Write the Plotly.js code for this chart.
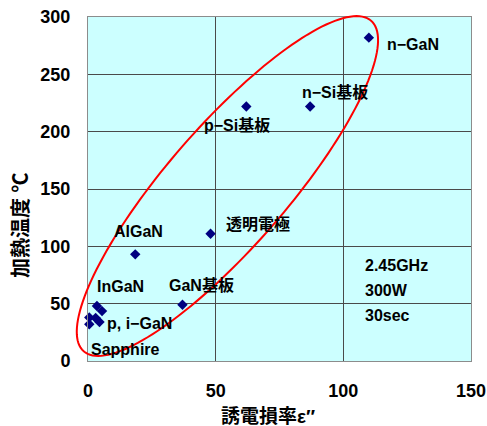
<!DOCTYPE html>
<html>
<head>
<meta charset="utf-8">
<script src="https://cdn.plot.ly/plotly-3.0.1.min.js"></script>
<style>
  html, body { margin: 0; padding: 0; background: #ffffff; }
  #chart { width: 487px; height: 426px; }
</style>
</head>
<body>
<div id="chart"></div>
<script>
// Dielectric loss factor (ε″) vs. heating temperature (℃), 2.45 GHz / 300 W / 30 s
const samples = ['n−GaN', 'n−Si基板', 'p−Si基板', '透明電極', 'AlGaN', 'GaN基板',
                 'InGaN', 'p, i−GaN', 'i−GaN', 'p−GaN', 'Sapphire', 'Sapphire'];
const lossFactor = [110, 87, 62, 48, 18.5, 37, 3.5, 5.5, 0.5, 3, 4.5, 0.5];
const heatTemp   = [282, 222, 222, 111, 93, 49, 48, 43.5, 38, 37.5, 34, 32];

// label text per sample ('' = unlabelled point) with pixel offsets from its marker
const labelText = ['n−GaN', 'n−Si基板', 'p−Si基板', '透明電極', 'AlGaN', 'GaN基板',
                   'InGaN', 'p, i−GaN', '', '', '', 'Sapphire'];
const labelDx = [16, -10, -44, 13, -23, -15, -2, 3, 0, 0, 0, 0];
const labelDy = [-7, 14, -19, 10, 23, 19, 19, -12, 0, 0, 0, -25];

const xTicks = [0, 50, 100, 150];
const yTicks = [0, 50, 100, 150, 200, 250, 300];
const conditions = ['2.45GHz', '300W', '30sec'];

const W = 487, H = 426;
const M = { l: 88, r: 16, t: 17, b: 65 };
const xRange = [0, 150], yRange = [0, 300];

const latin = 'Liberation Sans, Arial, Noto Sans CJK JP, sans-serif';
const cjk = 'Liberation Sans, Noto Sans CJK JP, sans-serif';

// Red ellipse grouping the points: centre in data units, semi-axes in pixels, tilt in degrees.
// Drawn in paper coordinates so it can run slightly past the plot frame.
const plotW = W - M.l - M.r, plotH = H - M.t - M.b;
function ellipsePath(cx, cy, a, b, deg) {
  const th = deg * Math.PI / 180;
  const cxp = (cx - xRange[0]) / (xRange[1] - xRange[0]);
  const cyp = (cy - yRange[0]) / (yRange[1] - yRange[0]);
  let d = '';
  const n = 160;
  for (let i = 0; i <= n; i++) {
    const t = 2 * Math.PI * i / n;
    const px = a * Math.cos(t) * Math.cos(th) - b * Math.sin(t) * Math.sin(th);
    const py = a * Math.cos(t) * Math.sin(th) + b * Math.sin(t) * Math.cos(th);
    const x = cxp + px / plotW, y = cyp + py / plotH;
    d += (i === 0 ? 'M' : 'L') + x.toFixed(5) + ',' + y.toFixed(5);
  }
  return d + 'Z';
}

const trace = {
  type: 'scatter',
  mode: 'markers',
  x: lossFactor,
  y: heatTemp,
  text: samples,
  marker: { symbol: 'diamond', size: 8, color: '#000080', line: { width: 0 } },
  cliponaxis: false,
  hoverinfo: 'x+y+text'
};

const annotations = [];
lossFactor.forEach((xv, i) => {
  if (!labelText[i]) return;
  annotations.push({
    x: xv, y: heatTemp[i], xref: 'x', yref: 'y',
    text: labelText[i], showarrow: false,
    xanchor: 'left', yanchor: 'middle',
    xshift: labelDx[i], yshift: labelDy[i],
    font: { family: cjk, size: 16, color: '#000000', weight: 'bold' }
  });
});
conditions.forEach((c, i) => {
  annotations.push({
    x: 107.7, y: 83.7 - i * 22.2, xref: 'x', yref: 'y',
    text: c, showarrow: false, xanchor: 'left', yanchor: 'middle',
    font: { family: latin, size: 16, color: '#000000', weight: 'bold' }
  });
});
// axis titles
annotations.push({
  xref: 'paper', yref: 'paper', x: 0.47, y: -0.16,
  text: '誘電損率ε″', showarrow: false, xanchor: 'center', yanchor: 'middle',
  font: { family: cjk, size: 19, color: '#000000', weight: 'bold' }
});
annotations.push({
  xref: 'paper', yref: 'paper', x: -0.175, y: 0.395,
  text: '加熱温度 ℃', showarrow: false, textangle: -90,
  xanchor: 'center', yanchor: 'middle',
  font: { family: cjk, size: 20, color: '#000000', weight: 'bold' }
});

const axisCommon = {
  showline: true, mirror: true, linecolor: '#8c8c8c', linewidth: 1,
  showgrid: true, gridcolor: '#4a4a4a', gridwidth: 1,
  zeroline: false,
  ticks: 'outside', tickcolor: 'rgba(0,0,0,0)',
  tickfont: { family: latin, size: 18, color: '#000000', weight: 'bold' },
  fixedrange: true
};

const layout = {
  width: W, height: H,
  margin: M,
  paper_bgcolor: '#ffffff',
  plot_bgcolor: '#ccffff',
  showlegend: false,
  xaxis: Object.assign({}, axisCommon, {
    range: xRange, tickvals: xTicks, ticktext: xTicks.map(String), ticklen: 13
  }),
  yaxis: Object.assign({}, axisCommon, {
    range: yRange, tickvals: yTicks, ticktext: yTicks.map(String), ticklen: 13
  }),
  shapes: [{
    type: 'path', xref: 'paper', yref: 'paper',
    path: ellipsePath(54.6, 152.6, 219, 60, 49),
    line: { color: '#ff0000', width: 2 },
    layer: 'above'
  }],
  annotations: annotations
};

Plotly.newPlot('chart', [trace], layout, { displayModeBar: false, staticPlot: true });
</script>
</body>
</html>
